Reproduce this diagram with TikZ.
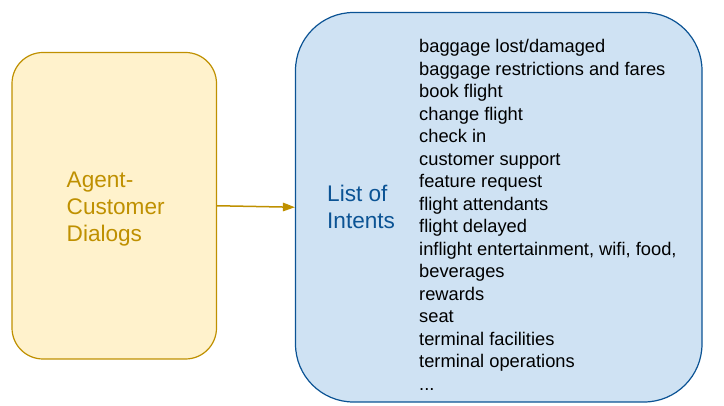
\documentclass[tikz,border=0pt]{standalone}
\usepackage{fontspec}
\setmainfont{Liberation Sans}
\usetikzlibrary{positioning,arrows.meta}
\definecolor{dlgfill}{HTML}{FFF2CC}
\definecolor{dlgline}{HTML}{BF9000}
\definecolor{intfill}{HTML}{CFE2F3}
\definecolor{intline}{HTML}{0B5394}

\begin{document}
\begin{tikzpicture}[x=1pt,y=-1pt,
                box/.style={draw,line width=1.2pt,inner sep=0pt},
                bigtext/.style={align=left,inner sep=0pt,anchor=west,
                                font=\fontsize{22.6}{27.2}\selectfont},
                flow/.style={-{Triangle[length=12pt,width=8.5pt]},line width=1.5pt,dlgline}]

\useasboundingbox (0,0) rectangle (724,406);

% boxes
\node[box,fill=dlgfill,draw=dlgline,rounded corners=31pt,
      minimum width=204.5pt,minimum height=306.5pt] (D) at (114.25,205.75) {};
\node[box,fill=intfill,draw=intline,rounded corners=58pt,
      minimum width=406.5pt,minimum height=389.5pt] (I) at (498.75,207.25) {};

% labels
\node[bigtext,text=dlgline] (Dlabel) at (66.5,209.3) {Agent-\\Customer\\Dialogs};
\node[bigtext,text=intline] (Ilabel) at (327,207.3) {List of\\Intents};

\node[align=left,inner sep=0pt,anchor=west,font=\fontsize{18.3}{22.5}\selectfont]
     (intents) at (419,215)
{baggage lost/damaged\\
baggage restrictions and fares\\
book flight\\
change flight\\
check in\\
customer support\\
feature request\\
flight attendants\\
flight delayed\\
inflight entertainment, wifi, food,\\
beverages\\
rewards\\
seat\\
terminal facilities\\
terminal operations\\
...};

\draw[flow] (D.east) -- (I.west);
\end{tikzpicture}
\end{document}
